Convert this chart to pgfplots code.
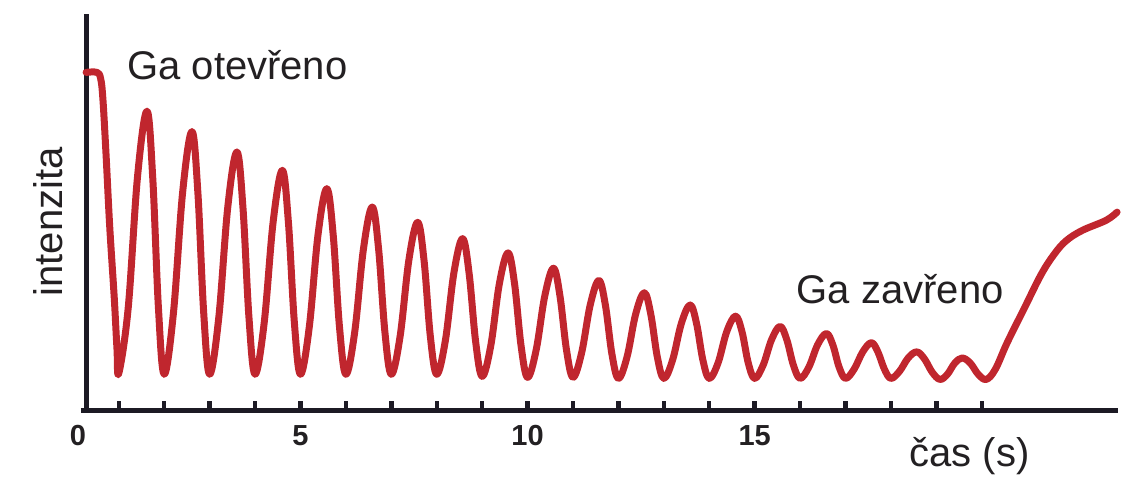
\documentclass[border=0pt]{standalone}
\usepackage{pgfplots}
\pgfplotsset{compat=1.18}
\usepackage{fontspec}
\setmainfont{Liberation Sans}
\definecolor{curvered}{RGB}{192,38,46}
\definecolor{axiscol}{RGB}{28,26,36}
\definecolor{txtcol}{RGB}{35,32,34}
\begin{document}
\begin{tikzpicture}
\path[use as bounding box] (-43.5pt,-34pt) rectangle (530pt,205pt);
\begin{axis}[
  at={(0,0)}, anchor=origin,
  scale only axis,
  width=515.5pt, height=194pt,
  xmin=0.3, xmax=23, ymin=0, ymax=388,
  axis x line=bottom, axis y line=left,
  axis line style={-, line width=2.5pt, color=axiscol},
  x axis line style={shorten <=-3pt},
  xtick={5,10,15},
  minor xtick={1,2,3,4,6,7,8,9,11,12,13,14,16,17,18,19,20},
  ytick=\empty,
  tick align=inside,
  tick pos=left,
  major tick length=4.5pt, minor tick length=4.5pt,
  every tick/.style={line width=2.2pt, color=axiscol},
  xticklabel style={font=\fontsize{14.5}{16}\selectfont\bfseries, text=txtcol, yshift=-4pt},
  /pgf/number format/assume math mode=true,
  clip=false,
]
\addplot[color=curvered, line width=3.5pt, smooth, tension=0.6, line cap=round, line join=round] coordinates {
(0.28,331) (0.52,331) (0.60,325) (0.65,305) (0.72,250) (0.80,180) (0.90,110) (0.96,60) (1.0,36)
(1.207,100) (1.413,229) (1.62,293) (1.747,228) (1.873,100) (2,35)
(2.203,95) (2.407,214) (2.61,273) (2.74,214) (2.87,95) (3,35)
(3.2,90) (3.4,199) (3.60,253) (3.733,199) (3.867,90) (4,35)
(4.2,85) (4.4,185) (4.60,235) (4.733,185) (4.867,85) (5,35)
(5.193,81) (5.387,172) (5.58,217) (5.72,172) (5.86,81) (6,35)
(6.193,76) (6.387,158) (6.58,199) (6.72,158) (6.86,76) (7,35)
(7.193,72) (7.387,147) (7.58,184) (7.72,147) (7.86,72) (8,35)
(8.19,68) (8.38,135) (8.57,168) (8.713,134) (8.857,67) (9,33)
(9.19,63) (9.38,124) (9.57,154) (9.713,124) (9.857,63) (10,32)
(10.19,59) (10.38,112) (10.57,139) (10.713,112) (10.857,59) (11,32)
(11.19,56) (11.38,103) (11.57,127) (11.713,103) (11.857,55) (12,31)
(12.19,52) (12.38,94) (12.57,115) (12.713,94) (12.857,52) (13,31)
(13.193,49) (13.387,85) (13.58,103) (13.72,85) (13.86,49) (14,31)
(14.193,46) (14.387,77) (14.58,92) (14.72,77) (14.86,46) (15,31)
(15.187,44) (15.373,69) (15.56,82) (15.707,69) (15.853,44) (16,31)
(16.193,42) (16.387,64) (16.58,75) (16.72,64) (16.86,42) (17,31)
(17.19,40) (17.38,57) (17.57,66) (17.713,57) (17.857,40) (18,31)
(18.19,38) (18.38,51) (18.57,57) (18.74,50) (18.91,37) (19.08,30)
(19.243,35) (19.407,46) (19.57,51) (19.747,46) (19.923,35) (20.1,30)
(20.3,40) (20.56,66) (20.94,100) (21.31,133) (21.6,153) (21.86,166) (22.21,176) (22.74,186) (22.98,194)
};
\node[anchor=north, font=\fontsize{14.5}{16}\selectfont\bfseries, text=txtcol, yshift=-4pt] at (axis cs:0.1,0) {0};
\node[anchor=base west, inner sep=0pt, font=\fontsize{20}{24}\selectfont, text=txtcol] at (axis cs:1.18,324) {Ga otevřeno};
\node[anchor=base west, inner sep=0pt, font=\fontsize{20}{24}\selectfont, text=txtcol] at (axis cs:15.92,104) {Ga zavřeno};
\node[anchor=base west, inner sep=0pt, font=\fontsize{20}{24}\selectfont, text=txtcol] at (axis cs:18.40,-55) {čas (s)};
\node[anchor=base west, inner sep=0pt, rotate=90, font=\fontsize{20}{24}\selectfont, text=txtcol] at (axis cs:-0.25,111) {intenzita};
\end{axis}
\end{tikzpicture}
\end{document}
